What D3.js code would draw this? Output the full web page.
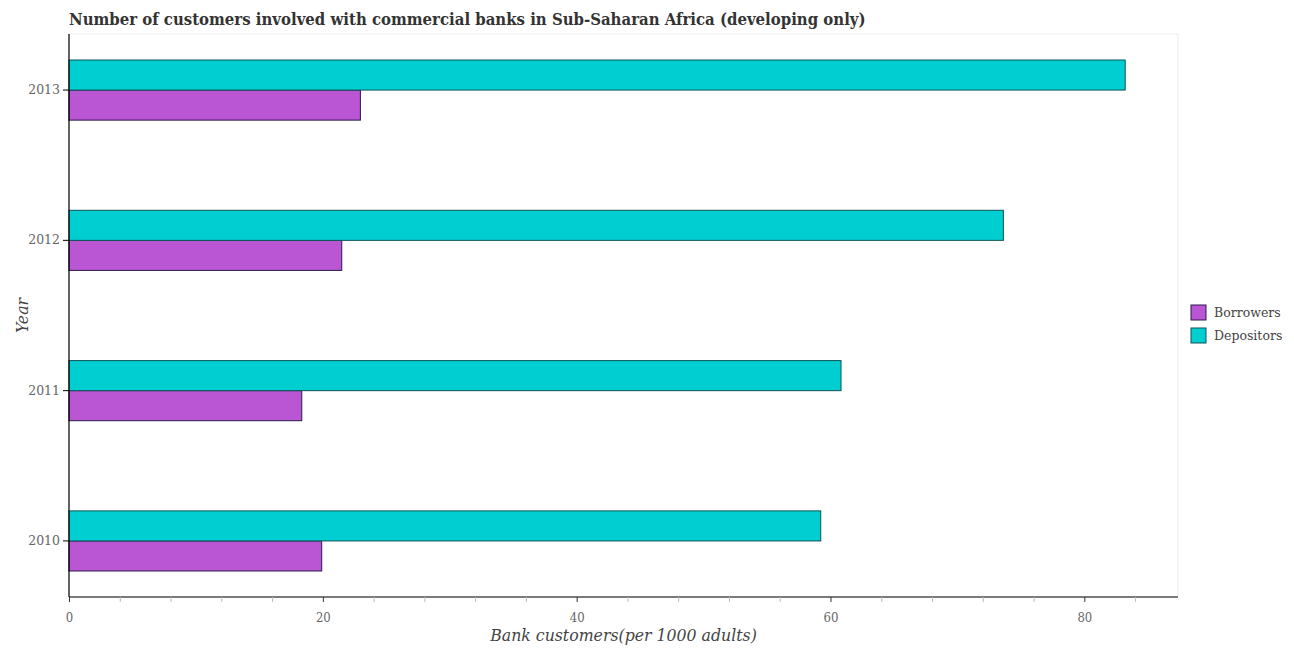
<!DOCTYPE html>
<html>
<head>
<meta charset="utf-8">
<script src="https://cdn.jsdelivr.net/npm/d3@7"></script>
<style>
  html, body { margin: 0; padding: 0; background: #fff; }
  svg { display: block; }
</style>
</head>
<body>
<svg id="chart" width="1294" height="650"></svg>
<script>
const years = ["2010", "2011", "2012", "2013"];
const borrowers = [19.91, 18.34, 21.49, 22.96];
const depositors = [59.23, 60.83, 73.62, 83.22];
const seriesNames = ["Borrowers", "Depositors"];
const seriesColors = ["#BA55D3", "#00CED1"];
const seriesStrokes = ["#2a1a4a", "#0d5456"];
const xTickValues = [0, 20, 40, 60, 80];

const svg = d3.select("#chart");
const margin = { left: 69, right: 1178, top: 34, bottom: 597 };

const x = d3.scaleLinear()
  .domain([0, d3.max(depositors) * 1.05])
  .range([margin.left, margin.right]);

const y = d3.scaleBand()
  .domain(years)
  .range([margin.bottom, margin.top])
  .paddingInner(0.6)
  .paddingOuter(0.173);

const sub = d3.scaleBand()
  .domain(["Depositors", "Borrowers"])
  .range([0, y.bandwidth()]);

// plot border (light)
svg.append("rect")
  .attr("x", margin.left).attr("y", margin.top)
  .attr("width", margin.right - margin.left)
  .attr("height", margin.bottom - margin.top)
  .attr("fill", "none").attr("stroke", "#ebebeb").attr("stroke-width", 1);

// title
svg.append("text")
  .attr("x", 69).attr("y", 25)
  .attr("font-family", "'DejaVu Serif Condensed', 'DejaVu Serif', serif")
  .attr("font-stretch", "condensed")
  .attr("font-weight", "bold")
  .attr("font-size", 16.6)
  .attr("fill", "#333")
  .text("Number of customers involved with commercial banks in Sub-Saharan Africa (developing only)");

const data = years.map((yr, i) => ({ year: yr, Borrowers: borrowers[i], Depositors: depositors[i] }));

const groups = svg.append("g").selectAll("g")
  .data(data).join("g")
  .attr("transform", d => `translate(0,${y(d.year)})`);

seriesNames.forEach((s, si) => {
  groups.append("rect")
    .attr("x", x(0))
    .attr("y", sub(s))
    .attr("width", d => x(d[s]) - x(0))
    .attr("height", sub.bandwidth())
    .attr("fill", seriesColors[si])
    .attr("stroke", seriesStrokes[si])
    .attr("stroke-width", 1);
});

// x axis
const xMinor = d3.range(0, x.domain()[1], 4);
const xAxisG = svg.append("g")
  .attr("transform", `translate(0,${margin.bottom})`);
xAxisG.call(d3.axisBottom(x).tickValues(xMinor).tickSize(5)
  .tickFormat(d => xTickValues.includes(d) ? d : ""));
xAxisG.select(".domain").attr("stroke", "#000").attr("stroke-width", 1.2)
  .attr("d", `M${margin.left},0H${margin.right}`);
xAxisG.selectAll(".tick line").attr("stroke", d => xTickValues.includes(d) ? "#333" : "#bbb");
xAxisG.selectAll(".tick text")
  .style("font-family", "'DejaVu Serif Condensed', 'DejaVu Serif', serif")
  .style("font-stretch", "condensed")
  .style("font-size", "13px")
  .attr("fill", "#666")
  .attr("dy", "1.3em");

// y axis
const yAxisG = svg.append("g")
  .attr("transform", `translate(${margin.left},0)`);
yAxisG.call(d3.axisLeft(y).tickSize(6));
yAxisG.select(".domain").attr("stroke", "#000").attr("stroke-width", 1.2)
  .attr("d", `M0,${margin.top}V${margin.bottom}`);
yAxisG.selectAll(".tick line").attr("stroke", "#000");
yAxisG.selectAll(".tick text")
  .style("font-family", "'DejaVu Serif', serif")
  .style("font-size", "12.5px")
  .attr("fill", "#666");

// axis titles
svg.append("text")
  .attr("x", (margin.left + margin.right) / 2)
  .attr("y", 641)
  .attr("text-anchor", "middle")
  .attr("font-family", "'DejaVu Serif Condensed', 'DejaVu Serif', serif")
  .attr("font-stretch", "condensed")
  .attr("font-style", "italic")
  .attr("font-size", 17.5)
  .attr("fill", "#444")
  .text("Bank customers(per 1000 adults)");

svg.append("text")
  .attr("transform", `translate(28,${(margin.top + margin.bottom) / 2}) rotate(-90)`)
  .attr("text-anchor", "middle")
  .attr("font-family", "'DejaVu Serif Condensed', 'DejaVu Serif', serif")
  .attr("font-stretch", "condensed")
  .attr("font-style", "italic")
  .attr("font-size", 17.5)
  .attr("fill", "#444")
  .text("Year");

// legend
const legend = svg.append("g").attr("transform", "translate(1191,305)");
seriesNames.forEach((s, i) => {
  legend.append("rect")
    .attr("x", 0).attr("y", i * 23)
    .attr("width", 15).attr("height", 15)
    .attr("fill", seriesColors[i])
    .attr("stroke", seriesStrokes[i]).attr("stroke-width", 1);
  legend.append("text")
    .attr("x", 23).attr("y", i * 23 + 12)
    .attr("font-family", "'DejaVu Serif', serif")
    .attr("font-size", 12.5)
    .attr("fill", "#444")
    .text(s);
});
</script>
</body>
</html>
